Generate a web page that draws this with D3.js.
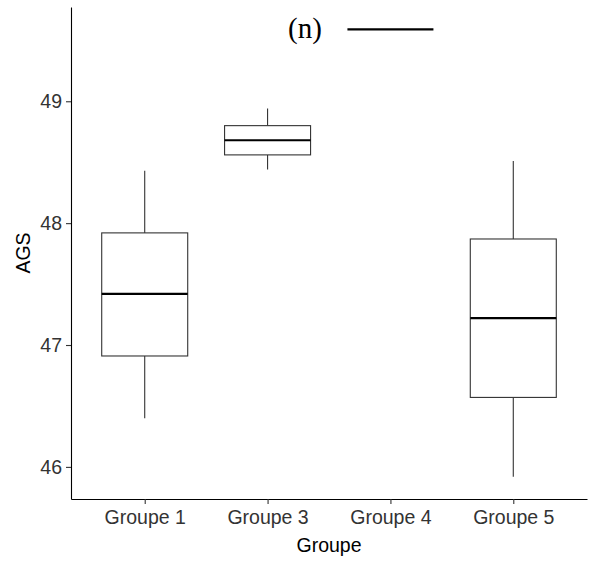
<!DOCTYPE html>
<html lang="en">
<head>
<meta charset="UTF-8">
<title>AGS par groupe</title>
<script src="https://d3js.org/d3.v7.min.js"></script>
<style>
  body { margin: 0; background: #fff; }
  text { font-family: "Liberation Sans", Arial, sans-serif; }
</style>
</head>
<body>
<script>
  // data
  const groups = ["Groupe 1", "Groupe 3", "Groupe 4", "Groupe 5"];
  const whiskerLow  = [46.40, 48.44, 49.59, 45.92];
  const q1          = [46.91, 48.56, 49.59, 46.57];
  const median      = [47.42, 48.68, 49.59, 47.22];
  const q3          = [47.92, 48.80, 49.59, 47.87];
  const whiskerHigh = [48.43, 48.94, 49.59, 48.51];
  const yTicks = [46, 47, 48, 49];

  const W = 590, H = 563;
  const margin = { top: 7, right: 3, bottom: 64, left: 71 };
  const width = W - margin.left - margin.right;
  const height = H - margin.top - margin.bottom;

  const boxes = groups.map((g, i) => ({
    g, lo: whiskerLow[i], q1: q1[i], med: median[i], q3: q3[i], hi: whiskerHigh[i]
  }));

  const svg = d3.select("body").append("svg")
      .attr("width", W)
      .attr("height", H)
    .append("g")
      .attr("transform", `translate(${margin.left},${margin.top})`);

  const x = d3.scalePoint()
    .domain(groups)
    .range([0, width])
    .padding(0.6);

  // ggplot style 5% expansion
  const lo = d3.min(whiskerLow), hi = d3.max(whiskerHigh);
  const pad = (hi - lo) * 0.05;
  const y = d3.scaleLinear()
    .domain([lo - pad, hi + pad])
    .range([height, 0]);

  const bw = x.step() * 0.7;
  const stroke = "#333333";

  const box = svg.selectAll("g.box")
    .data(boxes)
    .enter().append("g")
      .attr("class", "box")
      .attr("transform", d => `translate(${x(d.g)},0)`);

  box.append("line")
    .attr("y1", d => y(d.hi)).attr("y2", d => y(d.q3))
    .attr("stroke", stroke).attr("stroke-width", 1.1);
  box.append("line")
    .attr("y1", d => y(d.q1)).attr("y2", d => y(d.lo))
    .attr("stroke", stroke).attr("stroke-width", 1.1);
  box.append("rect")
    .attr("x", -bw / 2)
    .attr("width", bw)
    .attr("y", d => y(d.q3))
    .attr("height", d => y(d.q1) - y(d.q3))
    .attr("fill", "#fff")
    .attr("stroke", stroke)
    .attr("stroke-width", 1.1);
  box.append("line")
    .attr("x1", -bw / 2).attr("x2", bw / 2)
    .attr("y1", d => y(d.med)).attr("y2", d => y(d.med))
    .attr("stroke", "#000").attr("stroke-width", 2.2);

  // axes
  const yAxis = svg.append("g")
    .call(d3.axisLeft(y).tickValues(yTicks).tickFormat(d3.format("d"))
      .tickSize(5).tickSizeOuter(0).tickPadding(4));
  const xAxis = svg.append("g")
    .attr("transform", `translate(0,${height})`)
    .call(d3.axisBottom(x).tickSize(5).tickSizeOuter(0).tickPadding(6));

  [yAxis, xAxis].forEach(a => {
    a.select(".domain").attr("stroke", "#000").attr("stroke-width", 1.1);
    a.selectAll(".tick line").attr("stroke", "#333").attr("stroke-width", 1.1);
    a.selectAll(".tick text")
      .attr("font-family", "Liberation Sans, Arial, sans-serif")
      .attr("font-size", 19.5)
      .attr("fill", "#333");
  });

  svg.append("text")
    .attr("x", width / 2)
    .attr("y", height + 53)
    .attr("text-anchor", "middle")
    .attr("font-size", 19.5)
    .attr("fill", "#000")
    .text("Groupe");

  svg.append("text")
    .attr("transform", "rotate(-90)")
    .attr("x", -height / 2)
    .attr("y", -41)
    .attr("text-anchor", "middle")
    .attr("font-size", 19.5)
    .attr("fill", "#000")
    .text("AGS");

  svg.append("text")
    .attr("x", 234)
    .attr("y", 31)
    .attr("text-anchor", "middle")
    .style("font-family", "'Liberation Serif', 'Times New Roman', serif")
    .attr("font-size", 29)
    .attr("fill", "#000")
    .text("(n)");
</script>
</body>
</html>
